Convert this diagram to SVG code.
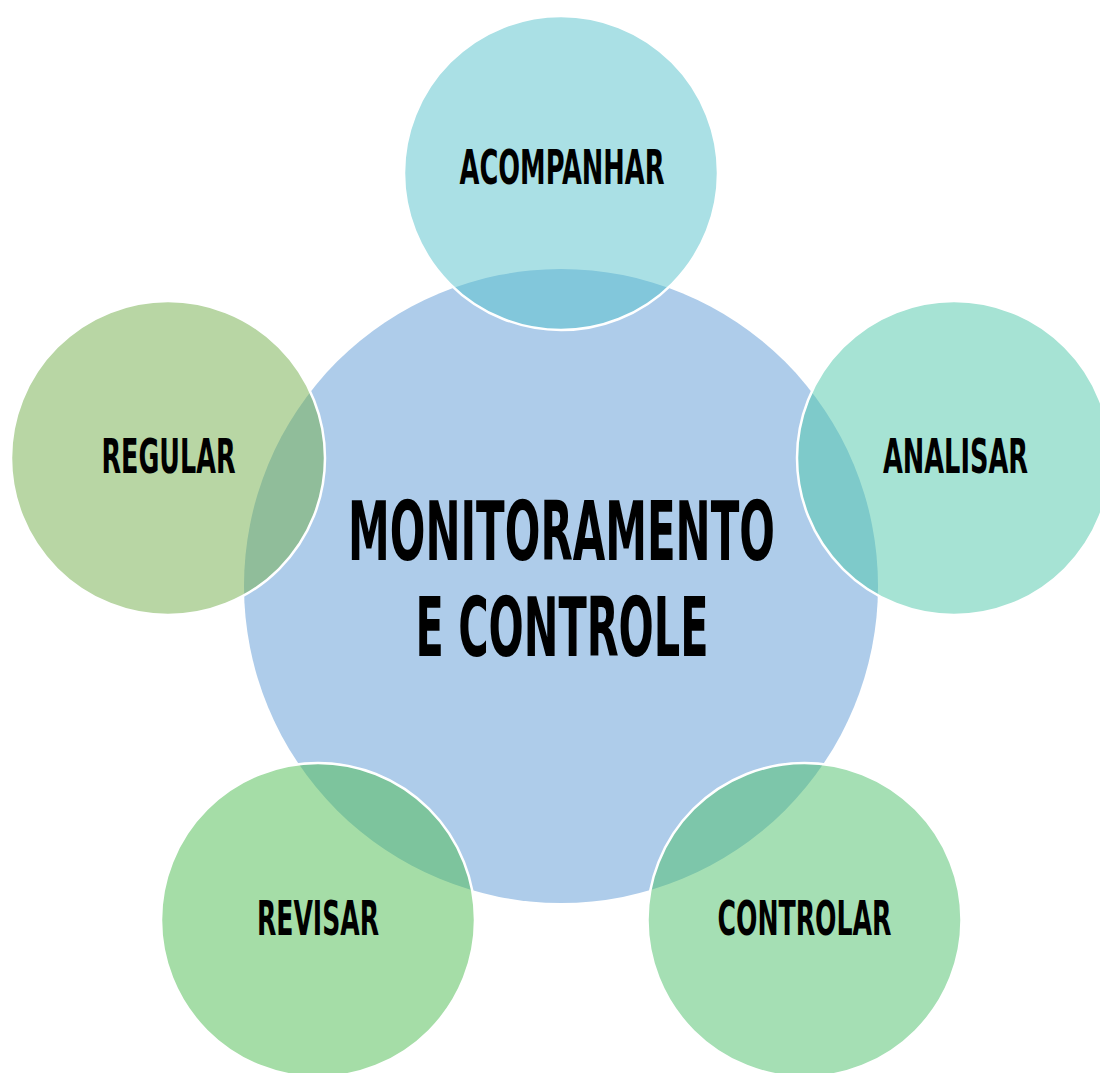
<svg xmlns="http://www.w3.org/2000/svg" width="1100" height="1073" viewBox="0 0 1100 1073">
  <style>
    .lbl { font-family: "DejaVu Sans Condensed", "DejaVu Sans", "Liberation Sans", sans-serif; font-weight: bold; fill: #000; text-anchor: middle; }
    .sm { font-size: 48px; }
    .big { font-size: 82px; }
    .sat { stroke: #ffffff; stroke-width: 2.5; fill-opacity: 0.5; }
  </style>
  <rect width="1100" height="1073" fill="#ffffff"/>
  <g id="center">
    <circle cx="561" cy="586" r="317" fill="#AECCEA"/>
    <text class="lbl big" x="561.5" y="560" textLength="427" lengthAdjust="spacingAndGlyphs">MONITORAMENTO</text>
    <text class="lbl big" x="562" y="656" textLength="293" lengthAdjust="spacingAndGlyphs">E CONTROLE</text>
  </g>
  <g id="acompanhar">
    <circle class="sat" cx="561" cy="173" r="157" fill="#55C1CB"/>
    <text class="lbl sm" x="562" y="184" textLength="205" lengthAdjust="spacingAndGlyphs">ACOMPANHAR</text>
  </g>
  <g id="analisar">
    <circle class="sat" cx="954" cy="458" r="157" fill="#4DC7A9"/>
    <text class="lbl sm" x="955.5" y="473" textLength="145" lengthAdjust="spacingAndGlyphs">ANALISAR</text>
  </g>
  <g id="regular">
    <circle class="sat" cx="168" cy="458" r="157" fill="#71AD49"/>
    <text class="lbl sm" x="168.5" y="473" textLength="134" lengthAdjust="spacingAndGlyphs">REGULAR</text>
  </g>
  <g id="revisar">
    <circle class="sat" cx="318" cy="920" r="157" fill="#4BBB4F"/>
    <text class="lbl sm" x="318" y="935" textLength="122" lengthAdjust="spacingAndGlyphs">REVISAR</text>
  </g>
  <g id="controlar">
    <circle class="sat" cx="804.5" cy="920" r="157" fill="#4BBF6A"/>
    <text class="lbl sm" x="804.5" y="935" textLength="174" lengthAdjust="spacingAndGlyphs">CONTROLAR</text>
  </g>
</svg>
